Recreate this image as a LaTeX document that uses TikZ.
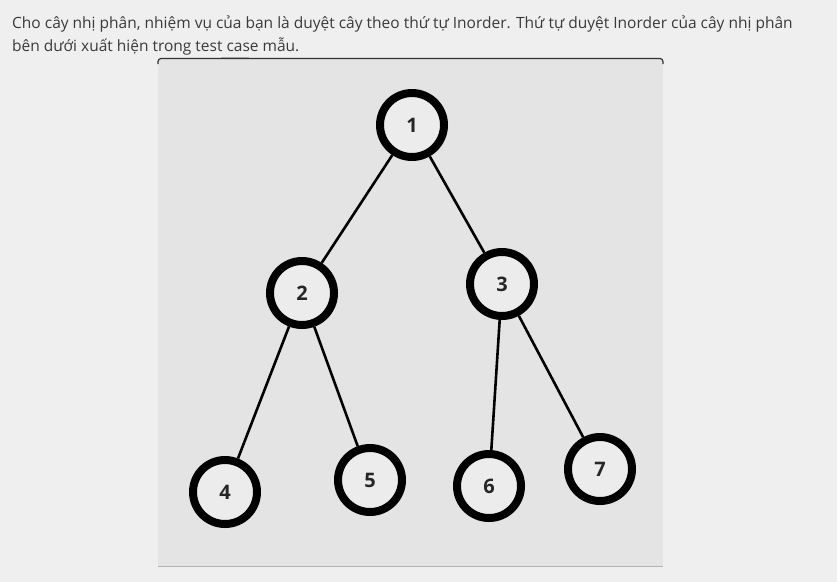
\documentclass[tikz,border=0pt]{standalone}
\usepackage{fontspec}
\setmainfont{Open Sans}
\begin{document}
\begin{tikzpicture}[x=1pt,y=-1pt,
  tnode/.style={circle,draw=black,line width=8pt,fill=nodefill,minimum size=64pt,inner sep=0pt,
    font=\fontsize{20}{20}\selectfont\bfseries,text=black!85},
  edge/.style={line width=2.6pt,black},
  para/.style={anchor=base west,inner sep=0pt,text=textgray,font=\fontsize{15.5}{15.5}\selectfont}]
\definecolor{bg}{HTML}{EFEFEF}
\definecolor{panel}{HTML}{E4E4E4}
\definecolor{nodefill}{HTML}{ECECEC}
\definecolor{textgray}{HTML}{3A3A3A}
\useasboundingbox[fill=bg] (0,0) rectangle (837,582);
\node[para] (l1) at (12,28) {Cho cây nhị phân, nhiệm vụ của bạn là duyệt cây theo thứ tự Inorder. Thứ tự duyệt Inorder của cây nhị phân};
\node[para] (l2) at (12,51) {bên dưới xuất hiện trong test case mẫu.};
% panel
\fill[panel] (158,59) rectangle (663,566);
\draw[line width=1.2pt,black!80,rounded corners=3pt] (158,64) -- (158,58.5) -- (663,58.5) -- (663,64);
\draw[line width=0.8pt,black!30] (158,566) -- (663,566);
\draw[line width=1pt,black!35] (221,57) -- (249,57);
% nodes
\node[tnode] (n1) at (412,125) {1};
\node[tnode] (n2) at (302,293) {2};
\node[tnode] (n3) at (502,284) {3};
\node[tnode] (n4) at (225,492) {4};
\node[tnode] (n5) at (370,480) {5};
\node[tnode] (n6) at (489,486) {6};
\node[tnode] (n7) at (600,469) {7};
\draw[edge] (n1) -- (n2);
\draw[edge] (n1) -- (n3);
\draw[edge] (n2) -- (n4);
\draw[edge] (n2) -- (n5);
\draw[edge] (n3) -- (n6);
\draw[edge] (n3) -- (n7);
\end{tikzpicture}
\end{document}
